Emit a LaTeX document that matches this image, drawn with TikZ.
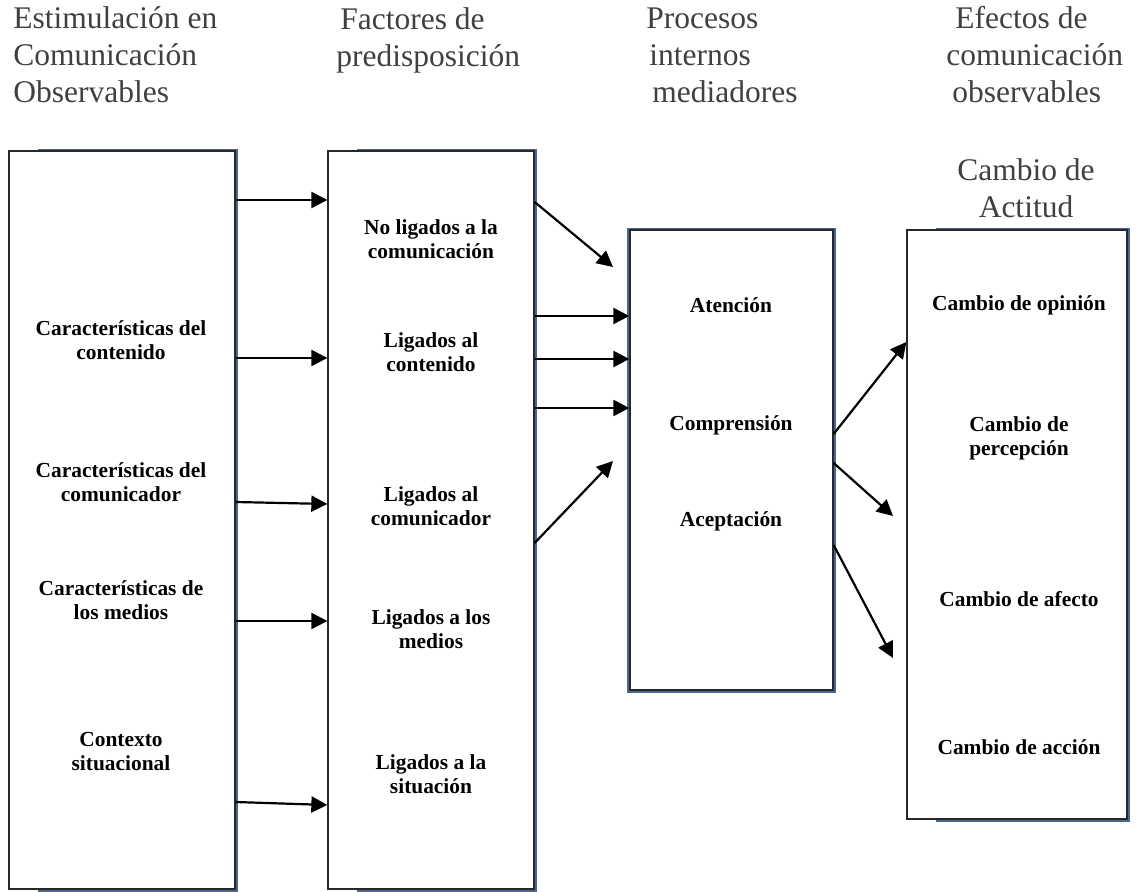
\documentclass[tikz,border=0pt]{standalone}
\usepackage{fontspec}
\setmainfont{Liberation Serif}
\usetikzlibrary{arrows.meta,positioning}
\definecolor{headgray}{RGB}{64,64,64}
\definecolor{rimblue}{RGB}{72,102,150}
\definecolor{framegray}{RGB}{40,40,40}

\tikzset{
	panel/.style={draw=framegray, line width=0.65pt, fill=white, inner sep=0pt},
	rim/.style={draw=rimblue, line width=0.8pt},
	head/.style={text=headgray, font=\fontsize{15.75}{18.5}\selectfont, align=left, inner sep=0pt, anchor=west},
	item/.style={font=\fontsize{10.7}{12}\selectfont\bfseries, align=center, inner sep=0pt},
	link/.style={line width=1.1pt, -{Triangle[length=8pt,width=8pt]}}
}

\begin{document}
\begin{tikzpicture}[x=0.5pt,y=-0.5pt]
	\useasboundingbox (0,0) rectangle (1136,892);

	% Column headings
	\node[head] (h1) at (13,55) {Estimulación en\\Comunicación\\Observables};
	\node[head] (h2) at (336,40.5) {\hspace*{2pt}Factores de\\predisposición};
	\node[head] (h3) at (646,55) {Procesos\\\hspace*{1.5pt}internos\\\hspace*{3pt}mediadores};
	\node[head] (h4) at (946,55) {\hspace*{4.5pt}Efectos de\\comunicación\\\hspace*{3pt}observables};
	\node[head, align=center, anchor=center] (h5) at (1026,188) {Cambio de\\Actitud};

	% Boxes
	\node[panel, minimum width=113pt, minimum height=369pt] (b1) at (122,520) {};
	\node[panel, minimum width=103pt, minimum height=369pt] (b2) at (431,520) {};
	\node[panel, minimum width=101.5pt, minimum height=230pt] (b3) at (731.5,460) {};
	\node[panel, minimum width=110pt, minimum height=294.5pt] (b4) at (1017,524.5) {};
	\foreach \b in {b1,b2,b4}
		\draw[rim] ([shift={(15pt,0.4pt)}]\b.north west) -- ([shift={(0.7pt,0.4pt)}]\b.north east) -- ([shift={(0.7pt,-0.6pt)}]\b.south east) -- ([shift={(15pt,-0.6pt)}]\b.south west);
	\draw[rim] ([shift={(-0.6pt,0.4pt)}]b3.north west) rectangle ([shift={(0.7pt,-0.6pt)}]b3.south east);

	% Stimuli
	\node[item] (c1) at (121,340) {Características del\\contenido};
	\node[item] (c2) at (121,482) {Características del\\comunicador};
	\node[item] (c3) at (121,600) {Características de\\los medios};
	\node[item] (c4) at (121,752) {Contexto\\situacional};

	% Predispositions
	\node[item] (f1) at (431,239.5) {No ligados a la\\comunicación};
	\node[item] (f2) at (431,352) {Ligados al\\contenido};
	\node[item] (f3) at (431,506) {Ligados al\\comunicador};
	\node[item] (f4) at (431,629) {Ligados a los\\medios};
	\node[item] (f5) at (431,774) {Ligados a la\\situación};

	% Mediating processes
	\node[item] (m1) at (731,305) {Atención};
	\node[item] (m2) at (731,425) {Comprensión};
	\node[item] (m3) at (731,521) {Aceptación};

	% Effects
	\node[item] (e1) at (1019,305) {Cambio de opinión};
	\node[item] (e2) at (1019,438) {Cambio de\\percepción};
	\node[item] (e3) at (1019,599) {Cambio de afecto};
	\node[item] (e4) at (1019,747) {Cambio de acción};

	% Arrows between the columns
	\draw[link] (b1.east |- 0,200) -- (b2.west |- 0,200);
	\draw[link] (b1.east |- 0,358) -- (b2.west |- 0,358);
	\draw[link] (b1.east |- 0,502) -- (b2.west |- 0,504);
	\draw[link] (b1.east |- 0,621) -- (b2.west |- 0,621);
	\draw[link] (b1.east |- 0,802) -- (b2.west |- 0,805);

	\coordinate (p1) at (613,267);
	\coordinate (p2) at (613,461);
	\draw[link] (b2.east |- 0,202) -- (p1);
	\draw[link] (b2.east |- 0,316) -- (b3.west |- 0,316);
	\draw[link] (b2.east |- 0,359) -- (b3.west |- 0,359);
	\draw[link] (b2.east |- 0,408) -- (b3.west |- 0,408);
	\draw[link] (b2.east |- 0,543) -- (p2);

	\coordinate (q1) at (893,516);
	\coordinate (q2) at (893,658);
	\draw[link] (b3.east |- 0,434) -- (b4.west |- 0,342);
	\draw[link] (b3.east |- 0,463) -- (q1);
	\draw[link] (b3.east |- 0,545) -- (q2);
\end{tikzpicture}
\end{document}
